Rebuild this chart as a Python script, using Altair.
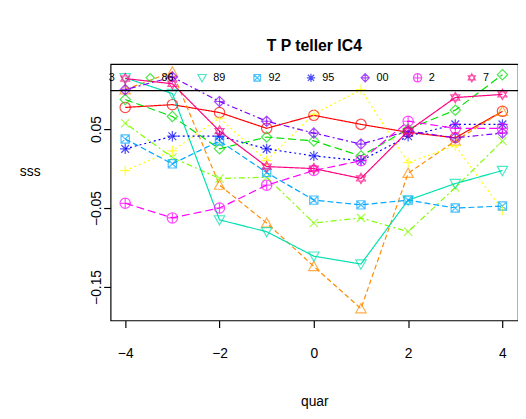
import pandas as pd
import altair as alt

quar = [-4, -3, -2, -1, 0, 1, 2, 3, 4]
series = ["74", "77", "80", "83", "86", "89", "92", "95", "00", "2", "7"]
values = {
    "74": [0.0775, 0.081, 0.071, 0.051, 0.0675, 0.056, 0.046, 0.039, 0.0725],
    "77": [0.100, 0.1225, -0.021, -0.069, -0.124, -0.1775, -0.006, 0.035, 0.0725],
    "80": [-0.0025, 0.0225, 0.064, 0.010, 0.069, 0.100, 0.0075, 0.029, -0.0525],
    "83": [0.0575, 0.014, -0.0125, -0.011, -0.069, -0.0625, -0.080, -0.024, 0.035],
    "86": [0.0875, 0.066, 0.025, 0.040, 0.035, 0.016, 0.050, 0.074, 0.119],
    "89": [0.115, 0.095, -0.065, -0.080, -0.111, -0.121, -0.040, -0.019, -0.0025],
    "92": [0.0375, 0.006, 0.035, -0.005, -0.040, -0.046, -0.040, -0.050, -0.0475],
    "95": [0.025, 0.041, 0.041, 0.025, 0.016, 0.010, 0.041, 0.056, 0.056],
    "00": [0.100, 0.116, 0.085, 0.060, 0.045, 0.031, 0.0475, 0.039, 0.045],
    "2": [-0.044, -0.0625, -0.050, -0.021, -0.0025, 0.010, 0.060, 0.051, 0.051],
    "7": [0.114, 0.1075, 0.0475, 0.0025, 0.000, -0.0125, 0.0475, 0.090, 0.094],
}
colors = ["#FF0000", "#FF8C00", "#FFFF00", "#80FF00", "#00E000", "#00E0B0",
          "#00A8FF", "#0000FF", "#8000FF", "#FF00FF", "#FF0080"]
shapes = [
    "M-1,0A1,1 0 1,0 1,0A1,1 0 1,0 -1,0Z",
    "M0,-1L1,0.8L-1,0.8Z",
    "M-1,0H1M0,-1V1",
    "M-0.8,-0.8L0.8,0.8M-0.8,0.8L0.8,-0.8",
    "M0,-1L1,0L0,1L-1,0Z",
    "M0,1L1,-0.8L-1,-0.8Z",
    "M-0.8,-0.8H0.8V0.8H-0.8Z M-0.8,-0.8L0.8,0.8M-0.8,0.8L0.8,-0.8",
    "M-1,0H1M0,-1V1M-0.75,-0.75L0.75,0.75M-0.75,0.75L0.75,-0.75",
    "M0,-1L1,0L0,1L-1,0Z M-1,0H1M0,-1V1",
    "M-1,0A1,1 0 1,0 1,0A1,1 0 1,0 -1,0Z M-1,0H1M0,-1V1",
    "M0,-1L0.87,0.5L-0.87,0.5Z M0,1L0.87,-0.5L-0.87,-0.5Z",
]
dashes = [[1, 0], [5, 3], [2, 3], [2, 3, 6, 3], [8, 4], [1, 0],
          [6, 3], [2, 3], [2, 3, 6, 3], [8, 4], [1, 0]]

# legend entries visible in the strip at the top
leg_series = ["86", "89", "92", "95", "00", "2", "7"]
leg_x = [-3.47, -2.37, -1.2, -0.06, 1.09, 2.2, 3.35]

rows = []
for s in series:
    for q, v in zip(quar, values[s]):
        rows.append({"quar": q, "sss": v, "s": s})
df = pd.DataFrame(rows)
leg = pd.DataFrame({"s": leg_series, "quar": leg_x, "sss": [0.115] * 7,
                    "lx": [x + 0.28 for x in leg_x]})
cut = pd.DataFrame({"t": ["3"], "quar": [-4.35], "sss": [0.115]})

col = alt.Scale(domain=series, range=colors)
shp = alt.Scale(domain=series, range=shapes)
dsh = alt.Scale(domain=series, range=dashes)
xs = alt.Scale(domain=[-4.31, 4.33], nice=False, zero=False)
ys = alt.Scale(domain=[-0.1925, 0.1325], nice=False, zero=False)

xax = alt.Axis(values=[-4, -2, 0, 2, 4], grid=False, domain=False, tickColor="black",
               tickSize=7, labelFontSize=14, labelColor="black", titleFontSize=14,
               titleFont="Liberation Sans", titleFontWeight="normal",
               labelFont="Liberation Sans", titlePadding=34, labelPadding=20)
yax = alt.Axis(values=[-0.15, -0.05, 0.05], grid=False, domain=False, tickColor="black",
               tickSize=7, labelFontSize=14, labelColor="black", labelAngle=-90,
               labelAlign="center", labelBaseline="bottom", labelPadding=0,
               titleFontSize=14, titleAngle=0, titleFont="Liberation Sans",
               titleFontWeight="normal", labelFont="Liberation Sans",
               titleX=-82, titleY=116)

base = alt.Chart(df)
lines = base.mark_line(strokeWidth=1.2, clip=True).encode(
    x=alt.X("quar:Q", scale=xs, axis=xax, title="quar"),
    y=alt.Y("sss:Q", scale=ys, axis=yax, title="sss"),
    color=alt.Color("s:N", scale=col, legend=None),
    strokeDash=alt.StrokeDash("s:N", scale=dsh, legend=None),
    detail="s:N",
)
pts = base.mark_point(filled=False, size=110, strokeWidth=1.2, clip=True).encode(
    x="quar:Q", y="sss:Q",
    color=alt.Color("s:N", scale=col, legend=None),
    shape=alt.Shape("s:N", scale=shp, legend=None),
)
rule = alt.Chart(pd.DataFrame({"y": [0.09875]})).mark_rule(color="black", strokeWidth=1.2).encode(
    y="y:Q")
leg_pts = alt.Chart(leg).mark_point(filled=False, size=70, strokeWidth=1.2).encode(
    x="quar:Q", y="sss:Q",
    color=alt.Color("s:N", scale=col, legend=None),
    shape=alt.Shape("s:N", scale=shp, legend=None),
)
leg_txt = alt.Chart(leg).mark_text(align="left", fontSize=11, font="Liberation Sans",
                                   dx=-2).encode(x="lx:Q", y="sss:Q", text="s:N")
cut_txt = alt.Chart(cut).mark_text(align="left", fontSize=11, font="Liberation Sans").encode(
    x="quar:Q", y="sss:Q", text="t:N")

chart = (
    alt.layer(lines, pts, rule, leg_pts, leg_txt, cut_txt)
    .properties(
        width=413, height=260,
        title=alt.Title("T P  teller IC4", fontSize=16, font="Liberation Sans",
                        fontWeight="bold", offset=10),
        autosize=alt.AutoSizeParams(type="none"),
        padding={"left": 104, "top": 54, "right": 0, "bottom": 90},
    )
    .configure_view(stroke="black", strokeWidth=1.2)
    .configure_axis(tickWidth=1.2)
)
chart.save("out.html", embed_options={"renderer": "svg", "actions": False})
